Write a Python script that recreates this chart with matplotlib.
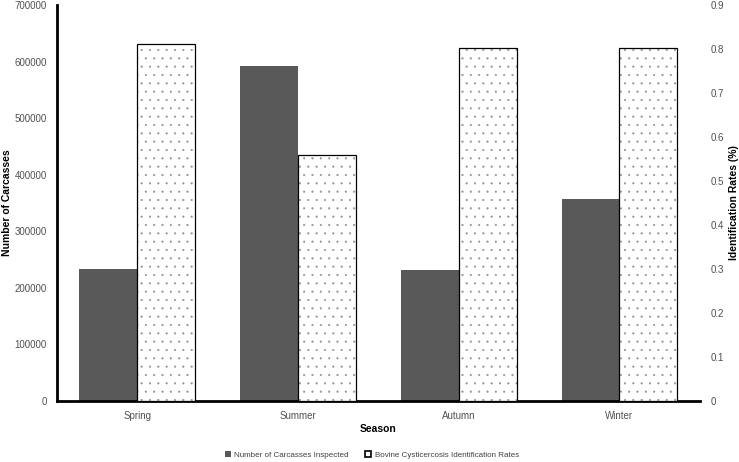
import matplotlib
matplotlib.use("Agg")
import matplotlib.pyplot as plt
from matplotlib.patches import Patch
import numpy as np

seasons = ["Spring", "Summer", "Autumn", "Winter"]
carcasses = [233500, 592000, 231000, 358000]
rates = [0.812, 0.559, 0.802, 0.802]
left_ticks = [0, 100000, 200000, 300000, 400000, 500000, 600000, 700000]
right_ticks = [0, 0.1, 0.2, 0.3, 0.4, 0.5, 0.6, 0.7, 0.8, 0.9]

plt.rcParams['font.family'] = ['Liberation Sans', 'DejaVu Sans']
plt.rcParams['hatch.linewidth'] = 0.3

fig = plt.figure(figsize=(7.39, 4.62), dpi=100)
ax = fig.add_axes([0.0767, 0.132, 0.8703, 0.857])
ax2 = ax.twinx()

x = np.arange(len(seasons))
w = 0.36
ax.bar(x - w / 2, carcasses, width=w, color='#595959', edgecolor='none', zorder=2)
# hatched fill (grey dots), then black outline on top
ax2.bar(x + w / 2, rates, width=w, facecolor='white', edgecolor='#909090',
        linewidth=0, hatch='..', zorder=2)
ax2.bar(x + w / 2, rates, width=w, facecolor='none', edgecolor='black',
        linewidth=0.9, zorder=3)

ax.set_xlim(-0.5, 3.5)
ax.set_ylim(0, 700000)
ax2.set_ylim(0, 0.9)
ax.set_yticks(left_ticks)
ax.set_yticklabels([str(v) for v in left_ticks])
ax2.set_yticks(right_ticks)
ax2.set_yticklabels([f"{v:g}" for v in right_ticks])
ax.set_xticks(x)
ax.set_xticklabels(seasons)

for a in (ax, ax2):
    a.spines['top'].set_visible(False)
    a.spines['right'].set_visible(False)
    a.tick_params(length=0, labelsize=7, colors='#505050')
ax2.spines['left'].set_visible(False)
ax2.spines['bottom'].set_visible(False)
ax.spines['left'].set_linewidth(2)
ax.spines['bottom'].set_linewidth(2)
ax.tick_params(axis='y', pad=7)
ax.tick_params(axis='x', pad=7)
ax2.tick_params(axis='y', pad=8)

ax.set_ylabel("Number of Carcasses", fontsize=7.5, fontweight='bold', labelpad=2)
ax2.set_ylabel("Identification Rates (%)", fontsize=7.5, fontweight='bold', labelpad=3)
ax.set_xlabel("Season", fontsize=7.5, fontweight='bold', labelpad=2)

handles = [Patch(facecolor='#595959', edgecolor='none', label='Number of Carcasses Inspected'),
           Patch(facecolor='white', edgecolor='black', linewidth=1.2,
                 label='Bovine Cysticercosis Identification Rates')]
fig.legend(handles=handles, loc='center', bbox_to_anchor=(0.503, 0.016), ncol=2,
           frameon=False, fontsize=5.8, handlelength=0.8, handleheight=0.8,
           handletextpad=0.4, columnspacing=2.0, labelcolor='#404040')

fig.savefig("out.png", dpi=100)
